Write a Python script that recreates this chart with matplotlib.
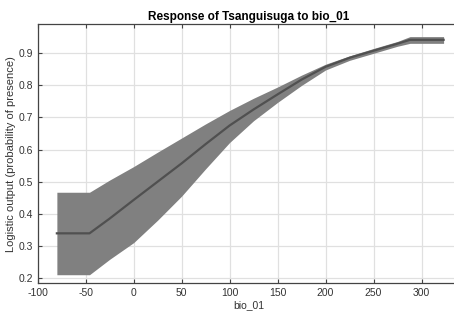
import matplotlib
matplotlib.use('Agg')
import matplotlib.pyplot as plt
import numpy as np

plt.rcParams['font.family'] = ['Liberation Sans', 'DejaVu Sans']

# response curve
bio_01 = [-80, -46, -25, 0, 25, 50, 75, 100, 125, 150, 175, 200, 225, 250, 275, 288, 323]
mean_resp = [0.339, 0.339, 0.385, 0.443, 0.50, 0.557, 0.617, 0.675, 0.725, 0.772,
             0.818, 0.858, 0.886, 0.908, 0.93, 0.942, 0.942]
upper_resp = [0.467, 0.467, 0.505, 0.547, 0.592, 0.636, 0.68, 0.722, 0.76, 0.795,
              0.832, 0.866, 0.892, 0.915, 0.937, 0.952, 0.952]
lower_resp = [0.21, 0.21, 0.258, 0.31, 0.38, 0.455, 0.54, 0.622, 0.69, 0.747,
              0.80, 0.848, 0.878, 0.90, 0.922, 0.931, 0.931]

xticks = [-100, -50, 0, 50, 100, 150, 200, 250, 300]
yticks = [0.2, 0.3, 0.4, 0.5, 0.6, 0.7, 0.8, 0.9]

fig = plt.figure(figsize=(4.54, 3.17), dpi=100)
ax = fig.add_axes([0.083, 0.106, 0.93, 0.818])

ax.fill_between(bio_01, lower_resp, upper_resp, color='#808080', linewidth=0)
ax.plot(bio_01, mean_resp, color='#505050', linewidth=1.6)

ax.set_xlim(-100, 340)
ax.set_ylim(0.183, 0.991)
ax.set_xticks(xticks)
ax.set_yticks(yticks)
ax.set_xticklabels([str(t) for t in xticks])
ax.set_yticklabels([str(t) for t in yticks])

ax.grid(True, color='#e0e0e0', linewidth=0.9)
ax.set_axisbelow(True)
ax.tick_params(direction='in', length=3, width=0.8, colors='#444444',
               labelsize=7.5, labelcolor='#333333', top=True, right=True)
for s in ax.spines.values():
    s.set_color('#444444')
    s.set_linewidth(0.9)

ax.set_title('Response of Tsanguisuga to bio_01', fontsize=8.5, fontweight='bold', pad=3)
ax.set_xlabel('bio_01', fontsize=7.5, color='#333333', labelpad=1)
ax.set_ylabel('Logistic output (probability of presence)', fontsize=8,
              color='#333333', labelpad=2)

fig.savefig('out.png', dpi=100)
